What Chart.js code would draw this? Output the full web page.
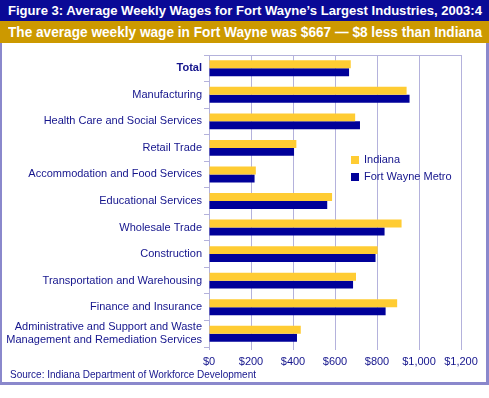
<!DOCTYPE html>
<html>
<head>
<meta charset="utf-8">
<script src="https://cdn.jsdelivr.net/npm/chart.js@4.4.0/dist/chart.umd.min.js"></script>
<style>
  body { margin: 0; background: #fff; }
  #wrap { position: relative; width: 489px; height: 398px; overflow: hidden; font-family: "Liberation Sans", Arial, sans-serif; }
  #frame { position: absolute; left: 0; top: 0; width: 484px; height: 382px; border-left: 2px solid #8a88cc; border-right: 3px solid #8a88cc; border-bottom: 3px solid #8a88cc; }
  #title { position: absolute; left: 0; top: 0; width: 489px; height: 21px; background: #0a0a96; color: #fff; font-weight: bold; font-size: 13px; line-height: 21px; white-space: nowrap; }
  #subtitle { position: absolute; left: 0; top: 21px; width: 489px; height: 22px; background: #cc9900; color: #fff; font-weight: bold; font-size: 14.5px; line-height: 22px; white-space: nowrap; }
  .txt { position: absolute; left: 8px; transform-origin: 0 50%; }
  #source { position: absolute; left: 10px; top: 368px; height: 13px; width: 300px; font-size: 11px; line-height: 13px; color: #14148c; white-space: nowrap; }
  #source .txt { left: 0; }
  canvas { position: absolute; left: 0; top: 0; }
</style>
</head>
<body>
<div id="wrap">
  <div id="frame"></div>
  <canvas id="myChart" width="489" height="398"></canvas>
  <div id="title"><span class="txt" data-w="474">Figure 3: Average Weekly Wages for Fort Wayne’s Largest Industries, 2003:4</span></div>
  <div id="subtitle"><span class="txt" data-w="474">The average weekly wage in Fort Wayne was $667 — $8 less than Indiana</span></div>
  <div id="source"><span class="txt" data-w="246">Source: Indiana Department of Workforce Development</span></div>
</div>
<script>
const categories = [
    'Total',
    'Manufacturing',
    'Health Care and Social Services',
    'Retail Trade',
    'Accommodation and Food Services',
    'Educational Services',
    'Wholesale Trade',
    'Construction',
    'Transportation and Warehousing',
    'Finance and Insurance',
    ['Administrative and Support and Waste', 'Management and Remediation Services']
];
const indiana = [675, 941, 696, 416, 223, 586, 917, 803, 700, 896, 437];
const fortWayne = [667, 955, 719, 405, 217, 563, 836, 793, 686, 841, 419];
const xTicks = [0, 200, 400, 600, 800, 1000, 1200];

const navyText = '#14148c';
const gridColor = '#b4b2dc';
const fontFamily = '"Liberation Sans", Arial, sans-serif';

// squeeze header text to the width it has in the figure
document.querySelectorAll('.txt').forEach(function (el) {
    const w = el.getBoundingClientRect().width;
    el.style.transform = 'scaleX(' + (Number(el.dataset.w) / w) + ')';
});

// legend drawn inside the plot, plus the top frame line
const extras = {
    id: 'extras',
    afterDraw(chart) {
        const c = chart.ctx;
        const area = chart.chartArea;
        c.save();
        c.strokeStyle = gridColor;
        c.lineWidth = 1;
        c.beginPath();
        c.moveTo(area.left, Math.round(area.top) + 0.5);
        c.lineTo(area.right, Math.round(area.top) + 0.5);
        c.stroke();
        c.font = '11px ' + fontFamily;
        c.textBaseline = 'middle';
        chart.data.datasets.forEach(function (ds, i) {
            const y = 160 + i * 17;
            c.fillStyle = ds.backgroundColor;
            c.fillRect(351, y - 4, 8, 8);
            c.fillStyle = navyText;
            c.fillText(ds.label, 364, y);
        });
        c.restore();
    }
};

document.addEventListener("DOMContentLoaded", function () {
    const ctx = document.getElementById('myChart');
    new Chart(ctx, {
        type: 'bar',
        data: {
            labels: categories,
            datasets: [{
                label: 'Indiana',
                data: indiana,
                backgroundColor: '#ffcc33',
                categoryPercentage: 0.6,
                barPercentage: 1.0
            }, {
                label: 'Fort Wayne Metro',
                data: fortWayne,
                backgroundColor: '#000099',
                categoryPercentage: 0.6,
                barPercentage: 1.0
            }]
        },
        options: {
            indexAxis: 'y',
            responsive: false,
            animation: false,
            layout: { padding: { top: 55, right: 28, left: 0, bottom: 0 } },
            plugins: {
                legend: { display: false },
                tooltip: { enabled: false }
            },
            scales: {
                x: {
                    min: 0,
                    max: 1200,
                    afterBuildTicks: function (axis) {
                        axis.ticks = xTicks.map(function (v) { return { value: v }; });
                    },
                    afterFit: function (axis) { axis.height = 51; },
                    grid: { color: gridColor, tickLength: 3 },
                    border: { display: false },
                    ticks: {
                        color: navyText,
                        padding: 5,
                        maxRotation: 0,
                        minRotation: 0,
                        autoSkip: false,
                        font: { family: fontFamily, size: 11 },
                        callback: function (v) { return '$' + v.toLocaleString('en-US'); }
                    }
                },
                y: {
                    afterFit: function (axis) { axis.width = 209; },
                    grid: { drawOnChartArea: false, color: gridColor, tickLength: 5, offset: true },
                    border: { color: gridColor },
                    ticks: {
                        color: navyText,
                        padding: 2,
                        autoSkip: false,
                        font: function (context) {
                            return {
                                family: fontFamily,
                                size: 11,
                                weight: context.index === 0 ? 'bold' : 'normal',
                                lineHeight: 1.18
                            };
                        }
                    }
                }
            }
        },
        plugins: [extras]
    });
});
</script>
</body>
</html>
